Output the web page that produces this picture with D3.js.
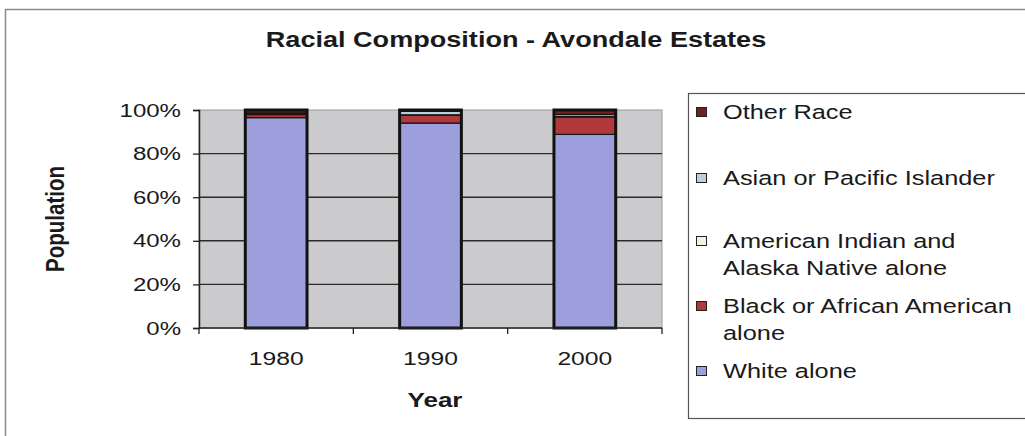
<!DOCTYPE html>
<html>
<head>
<meta charset="utf-8">
<script src="https://cdn.jsdelivr.net/npm/d3@7"></script>
<style>
  body { margin: 0; background: #fff; }
  text { font-family: "Liberation Sans", Arial, sans-serif; fill: #1a1a1a; }
</style>
</head>
<body>
<svg id="chart" width="1025" height="436"></svg>
<script>
// data (percent of population)
const years = ["1980", "1990", "2000"]
const white = [96.5, 94.0, 88.8]
const black = [1.4, 3.6, 8.0]
const amInd = [0.2, 0.2, 0.3]
const asian = [0.5, 1.6, 0.9]
const other = [1.4, 0.6, 2.0]
const yTicks = [0, 0.2, 0.4, 0.6, 0.8, 1]

const seriesNames = ["White alone", "Black or African American alone",
  "American Indian and Alaska Native alone", "Asian or Pacific Islander", "Other Race"]
const seriesColors = ["#9c9fdb", "#b2393b", "#f3f3d8", "#b9cfdc", "#722024"]
const legendLines = [["White alone"], ["Black or African American", "alone"],
  ["American Indian and", "Alaska Native alone"], ["Asian or Pacific Islander"], ["Other Race"]]

const rows = years.map((y, i) => ({
  year: y, s0: white[i], s1: black[i], s2: amInd[i], s3: asian[i], s4: other[i]
}))

const stretch = 1.3 // the picture's text is wide
const svg = d3.select("#chart")

svg.append("rect").attr("width", 1025).attr("height", 436).attr("fill", "#fff")
// outer chart border (runs off the right edge)
svg.append("rect").attr("x", 5.5).attr("y", 9.5).attr("width", 1040).attr("height", 440)
  .attr("fill", "none").attr("stroke", "#8a8a8a").attr("stroke-width", 1.5)

function wideText(x, y, str, size, opts = {}) {
  const t = svg.append("text")
    .attr("transform", `translate(${x},${y}) scale(${opts.sx || stretch},1)`)
    .attr("font-size", size)
    .attr("text-anchor", opts.anchor || "start")
    .text(str)
  if (opts.bold) t.attr("font-weight", "bold")
  return t
}

const plot = { left: 199, right: 662, top: 110, bottom: 328 }

const x = d3.scaleBand().domain(years).range([plot.left, plot.right]).paddingInner(0.6).paddingOuter(0.3)
const xOuter = d3.scaleBand().domain(years).range([plot.left, plot.right])
const y = d3.scaleLinear().domain([0, 1]).range([plot.bottom, plot.top])

svg.append("rect")
  .attr("x", plot.left).attr("y", plot.top)
  .attr("width", plot.right - plot.left).attr("height", plot.bottom - plot.top)
  .attr("fill", "#cbcbcd").attr("stroke", "#9a9a9a")

// gridlines
svg.append("g").selectAll("line").data(yTicks.filter(d => d > 0 && d < 1)).join("line")
  .attr("x1", plot.left).attr("x2", plot.right)
  .attr("y1", d => y(d)).attr("y2", d => y(d))
  .attr("stroke", "#2a2a2a").attr("stroke-width", 1.4)

// stacked bars
const stack = d3.stack().keys(["s0", "s1", "s2", "s3", "s4"]).offset(d3.stackOffsetExpand)
const layers = stack(rows)

svg.append("g").selectAll("g").data(layers).join("g")
  .attr("fill", (d, i) => seriesColors[i])
  .selectAll("rect").data(d => d).join("rect")
  .attr("x", d => x(d.data.year))
  .attr("width", x.bandwidth())
  .attr("y", d => y(d[1]))
  .attr("height", d => y(d[0]) - y(d[1]))
  .attr("stroke", "#151515").attr("stroke-width", 1.2)

// bar outlines
svg.append("g").selectAll("rect").data(years).join("rect")
  .attr("x", d => x(d)).attr("width", x.bandwidth())
  .attr("y", y(1)).attr("height", y(0) - y(1))
  .attr("fill", "none").attr("stroke", "#111").attr("stroke-width", 3)

// y axis
const yAxis = svg.append("g").attr("transform", `translate(${plot.left},0)`)
  .call(d3.axisLeft(y).tickValues(yTicks).tickSize(6).tickFormat(""))
yAxis.select(".domain").attr("stroke", "#222").attr("stroke-width", 1.5)
yAxis.selectAll(".tick line").attr("stroke", "#222").attr("stroke-width", 1.3)
yTicks.forEach(v => wideText(181, y(v) + 6.5, d3.format(".0%")(v), 18.5, { anchor: "end" }))

// x axis, ticks between categories
const xAxis = svg.append("g").attr("transform", `translate(0,${plot.bottom})`)
xAxis.append("line").attr("x1", plot.left).attr("x2", plot.right)
  .attr("stroke", "#222").attr("stroke-width", 1.5)
const bounds = years.map(d => xOuter(d)).concat([plot.right])
xAxis.selectAll(".tk").data(bounds).join("line").attr("class", "tk")
  .attr("x1", d => d).attr("x2", d => d).attr("y1", 0).attr("y2", 6)
  .attr("stroke", "#222").attr("stroke-width", 1.3)
years.forEach(d => wideText(x(d) + x.bandwidth() / 2, 365, d, 19, { anchor: "middle" }))

// titles
wideText(516, 47, "Racial Composition - Avondale Estates", 21.5, { anchor: "middle", bold: true, sx: 1.26 })
wideText(435, 407, "Year", 20, { anchor: "middle", bold: true })
svg.append("text")
  .attr("transform", `translate(64,219) rotate(-90) scale(1,${stretch})`)
  .attr("font-size", 20.5).attr("font-weight", "bold").attr("text-anchor", "middle")
  .text("Population")

// legend
svg.append("rect").attr("x", 688.5).attr("y", 93.5).attr("width", 400).attr("height", 325)
  .attr("fill", "#fff").attr("stroke", "#555").attr("stroke-width", 1.2)

const legendBase = [378, 313, 248, 185, 119] // first-line baselines, bottom item first
seriesNames.forEach((name, i) => {
  const by = legendBase[i]
  svg.append("rect").attr("x", 696.5).attr("y", by - 11.5).attr("width", 10).attr("height", 9)
    .attr("fill", seriesColors[i]).attr("stroke", "#222").attr("stroke-width", 1)
  legendLines[i].forEach((line, j) => wideText(723, by + j * 27, line, 19.5))
})
</script>
</body>
</html>
